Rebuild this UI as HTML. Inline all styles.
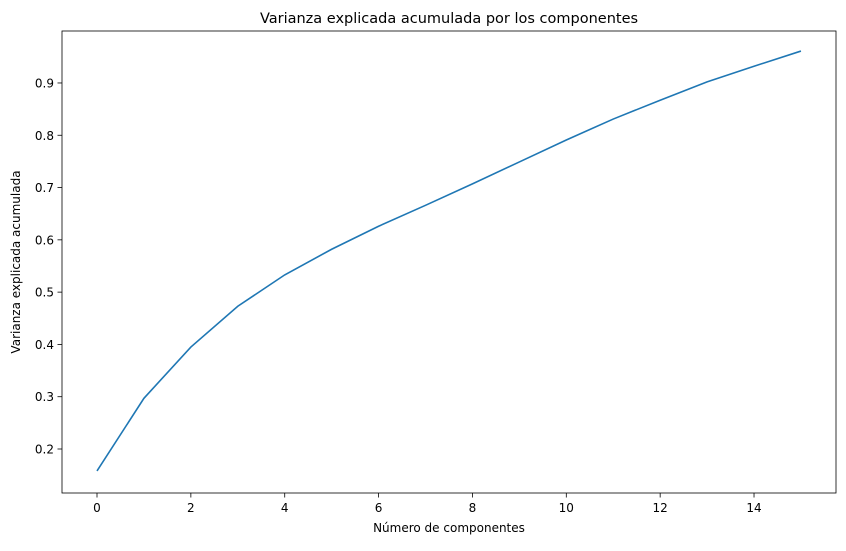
<!DOCTYPE html>
<html><head><meta charset="utf-8">
<style>
body{margin:0;background:#fff;width:846px;height:546px;overflow:hidden;font-family:"Liberation Sans","DejaVu Sans",sans-serif;}
svg text{font-family:"DejaVu Sans","Liberation Sans",sans-serif;fill:#000;}
</style></head>
<body>
<svg id="chart" width="846" height="546" xmlns="http://www.w3.org/2000/svg"></svg>
<script>
const components = [0,1,2,3,4,5,6,7,8,9,10,11,12,13,14,15];
const cumVariance = [0.158,0.297,0.395,0.473,0.533,0.582,0.626,0.666,0.707,0.749,0.791,0.831,0.867,0.902,0.932,0.961];
const xTicks = [0,2,4,6,8,10,12,14];
const yTicks = [0.2,0.3,0.4,0.5,0.6,0.7,0.8,0.9];
const yTickLabels = ["0.2","0.3","0.4","0.5","0.6","0.7","0.8","0.9"];

const svg = document.getElementById('chart');
const NS = 'http://www.w3.org/2000/svg';
const L=62, R=836, T=31, B=493;
function xs(v){return 97 + v*46.93;}
function ys(v){return 449 - (v-0.2)*522.9;}
function mk(tag, attrs){const e=document.createElementNS(NS,tag);for(const k in attrs)e.setAttribute(k,attrs[k]);svg.appendChild(e);return e;}

const frame = mk('rect',{x:L,y:T,width:R-L,height:B-T,fill:'none',stroke:'#000','stroke-width':0.8});



xTicks.forEach(t=>{
  const x=xs(t);
  const tk=mk('line',{x1:x,x2:x,y1:B,y2:B+4.5,stroke:'#000','stroke-width':0.8});
  
  
  const lb=mk('text',{x:x,y:B+19,'text-anchor':'middle','font-size':12});
  lb.textContent=String(t);
  
  
});
yTicks.forEach((t,i)=>{
  const y=ys(t);
  const tk=mk('line',{x1:L-4.5,x2:L,y1:y,y2:y,stroke:'#000','stroke-width':0.8});
  
  
  const lb=mk('text',{x:L-8,y:y+4.5,'text-anchor':'end','font-size':12});
  lb.textContent=yTickLabels[i];
  
  
});

const pts=components.map((c,i)=>xs(c)+','+ys(cumVariance[i])).join(' ');
const line=mk('polyline',{points:pts,fill:'none',stroke:'#1f77b4','stroke-width':1.6});



const title=mk('text',{x:(L+R)/2,y:T-8,'text-anchor':'middle','font-size':14.5});
title.textContent='Varianza explicada acumulada por los componentes';



const xt=mk('text',{x:(L+R)/2,y:532,'text-anchor':'middle','font-size':12});
xt.textContent='Número de componentes';



const yt=mk('text',{x:0,y:0,'text-anchor':'middle','font-size':12,transform:'translate(20,'+((T+B)/2)+') rotate(-90)'});
yt.textContent='Varianza explicada acumulada';


</script>
</body></html>
